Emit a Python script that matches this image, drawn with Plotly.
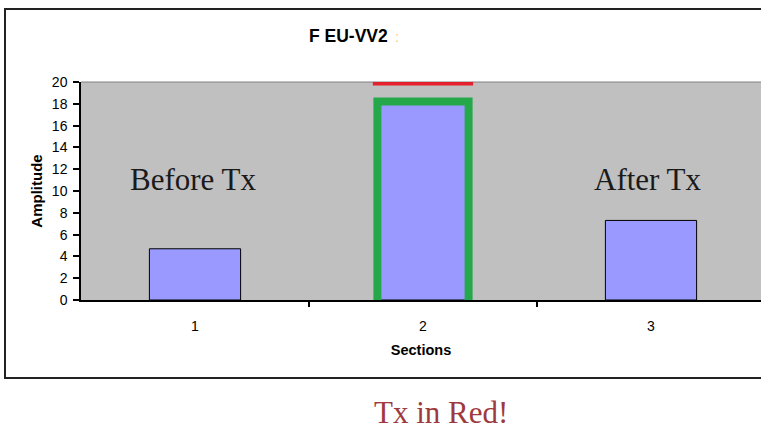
import plotly.graph_objects as go

# ---- data ----
sections = [1, 2, 3]
amplitude = [4.7, 18.0, 7.3]
section_labels = ["1", "2", "3"]
y_ticks = [0, 2, 4, 6, 8, 10, 12, 14, 16, 18, 20]
highlight_section = 2          # section outlined in green
tx_level = 20                  # red "Tx" line level
bar_width = 0.4

hi_val = amplitude[sections.index(highlight_section)]
half = bar_width / 2

fig = go.Figure()

fig.add_trace(go.Bar(
    x=sections, y=amplitude, width=bar_width,
    marker=dict(color="#9999ff", line=dict(color="#000000", width=1)),
    showlegend=False, hoverinfo="skip",
))

# green outline around highlighted bar
fig.add_trace(go.Scatter(
    x=[highlight_section - half, highlight_section - half,
       highlight_section + half, highlight_section + half],
    y=[0, hi_val + 0.2, hi_val + 0.2, 0],
    mode="lines", line=dict(color="#25a84a", width=8),
    cliponaxis=False, showlegend=False, hoverinfo="skip",
))

# red Tx line
fig.add_trace(go.Scatter(
    x=[highlight_section - half - 0.02, highlight_section + half + 0.02],
    y=[tx_level, tx_level],
    mode="lines", line=dict(color="#e3202b", width=7),
    cliponaxis=False, showlegend=False, hoverinfo="skip",
))

W, H = 761, 434
L, T, B = 81, 82, 134
PW, PH = W - L, H - T - B
px_per_unit = 228
x_max = 0.5 + PW / px_per_unit


def px(x):
    return (x - L) / PW


def py(y):
    return (H - B - y) / PH


fig.update_layout(
    width=W, height=H,
    margin=dict(l=L, r=0, t=T, b=B),
    paper_bgcolor="white", plot_bgcolor="#c0c0c0",
    font=dict(family="Liberation Sans, Arial, sans-serif", color="#000"),
    xaxis=dict(
        range=[0.5, x_max], tickvals=sections, ticktext=section_labels,
        ticks="", showgrid=False, zeroline=False,
        showline=True, linecolor="#000", linewidth=1.5,
        tickfont=dict(size=14), ticklabelstandoff=12,
        minor=dict(tickvals=[1.5, 2.5], ticks="outside", ticklen=5,
                   tickcolor="#000", tickwidth=1.5, showgrid=False),
        title=dict(text="<b>Sections</b>", font=dict(size=14.5), standoff=12),
        fixedrange=True,
    ),
    yaxis=dict(
        range=[0, 20], tickvals=y_ticks, ticks="outside", ticklen=6,
        tickcolor="#000", tickwidth=1.5,
        showgrid=False, zeroline=False,
        showline=True, linecolor="#000", linewidth=1.5,
        tickfont=dict(size=14), ticklabelstandoff=3,
        title=dict(text="<b>Amplitude</b>", font=dict(size=15), standoff=6),
        fixedrange=True,
    ),
    shapes=[
        # outer chart frame
        dict(type="rect", xref="paper", yref="paper",
             x0=px(5), x1=px(800), y0=py(378), y1=py(9),
             line=dict(color="#222", width=2), layer="below"),
        # thin top border of plot area
        dict(type="line", xref="paper", yref="paper",
             x0=0, x1=1, y0=1, y1=1,
             line=dict(color="#808080", width=1), layer="below"),
    ],
    annotations=[
        dict(text="<b>F EU-VV2</b>", xref="paper", yref="paper",
             x=px(348), y=py(36),
             showarrow=False, font=dict(size=17.5),
             xanchor="center", yanchor="middle"),
        dict(text=":", xref="paper", yref="paper",
             x=px(397), y=py(37),
             showarrow=False, font=dict(size=14, color="#f2c98a"),
             xanchor="center", yanchor="middle"),
        dict(text="Before Tx", xref="paper", yref="paper",
             x=px(193), y=py(179), xanchor="center", yanchor="middle",
             showarrow=False,
             font=dict(size=31, family="Liberation Serif, Times New Roman, serif", color="#1a1a1a")),
        dict(text="After Tx", xref="paper", yref="paper",
             x=px(648), y=py(179), xanchor="center", yanchor="middle",
             showarrow=False,
             font=dict(size=31, family="Liberation Serif, Times New Roman, serif", color="#1a1a1a")),
        dict(text="Tx in Red!", xref="paper", yref="paper",
             x=px(441), y=py(412),
             showarrow=False, xanchor="center", yanchor="middle",
             font=dict(size=31, family="Liberation Serif, Times New Roman, serif", color="#9e3a3e")),
    ],
)

fig.write_html("out.html",
               config={"displayModeBar": False},
               post_script="document.body.style.margin='0';document.body.style.overflow='hidden';")
